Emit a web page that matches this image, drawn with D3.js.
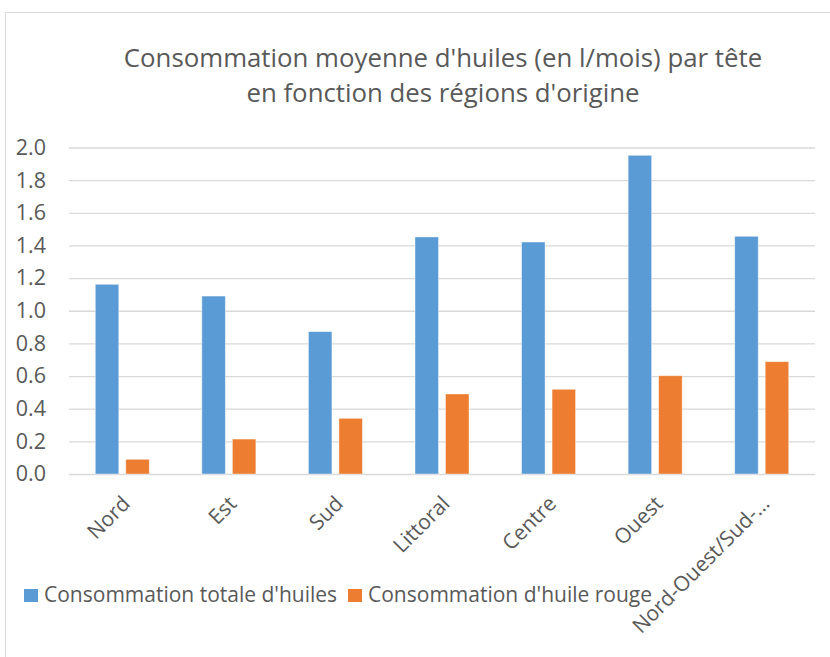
<!DOCTYPE html>
<html>
<head>
<meta charset="utf-8">
<script src="https://cdn.jsdelivr.net/npm/d3@7"></script>
<style>
  body { margin: 0; background: #fff; }
  svg text { font-family: "Open Sans", sans-serif; fill: #595959; }
</style>
</head>
<body>
<div class="wrapper"></div>
<script>
var regions = ["Nord", "Est", "Sud", "Littoral", "Centre", "Ouest", "Nord-Ouest/Sud-\u2026"];
var totalHuiles = [1.162, 1.090, 0.872, 1.452, 1.421, 1.952, 1.456];
var huileRouge = [0.090, 0.214, 0.341, 0.490, 0.519, 0.602, 0.688];
var seriesNames = ["Consommation totale d'huiles", "Consommation d'huile rouge"];
var yTicks = [0, 0.2, 0.4, 0.6, 0.8, 1.0, 1.2, 1.4, 1.6, 1.8, 2.0];
var titleLines = ["Consommation moyenne d'huiles (en l/mois) par t\u00eate", "en fonction des r\u00e9gions d'origine"];

var width = 830, height = 657;
var margin = {top: 147.5, right: 15, bottom: 183, left: 69};
var w = width - margin.left - margin.right,
  h = height - margin.top - margin.bottom;

var svg = d3.select(".wrapper").append("svg")
  .attr("width", width)
  .attr("height", height);

// chart frame
svg.append("rect")
  .attr("x", 5.5).attr("y", 12.5)
  .attr("width", 840).attr("height", 700)
  .attr("fill", "none")
  .attr("stroke", "#d9d9d9");

svg.append("g")
  .selectAll("text")
  .data(titleLines)
  .enter().append("text")
    .attr("x", 443)
    .attr("y", function(d, i) { return 67 + i * 35; })
    .attr("text-anchor", "middle")
    .attr("font-size", 25.8)
    .text(function(d) { return d; });

var g = svg.append("g").attr("transform", "translate(" + margin.left + "," + margin.top + ")");

var x0 = d3.scaleBand().domain(regions).range([0, w]).padding(0);
var keys = [0, 1];
var x1 = d3.scaleBand().domain(keys)
  .range([x0.bandwidth() / 2 - 27, x0.bandwidth() / 2 + 27])
  .paddingInner(0.23);
var y = d3.scaleLinear().domain([0, 2]).range([h, 0]);
var z = d3.scaleOrdinal().domain(keys).range(["#5b9bd5", "#ed7d31"]);

var yAxis = g.append("g")
  .call(d3.axisLeft(y).tickValues(yTicks).tickFormat(d3.format(".1f")).tickSize(-w).tickPadding(23));
yAxis.select(".domain").remove();
yAxis.selectAll("line").attr("stroke", "#d9d9d9").attr("stroke-width", 1.3);
yAxis.selectAll("text").attr("font-size", 21.5).attr("fill", "#595959");

var data = regions.map(function(r, i) {
  return {region: r, values: [totalHuiles[i], huileRouge[i]]};
});

g.append("g")
  .selectAll("g")
  .data(data)
  .enter().append("g")
    .attr("transform", function(d) { return "translate(" + x0(d.region) + ",0)"; })
  .selectAll("rect")
  .data(function(d) { return keys.map(function(k) { return {key: k, value: d.values[k]}; }); })
  .enter().append("rect")
    .attr("x", function(d) { return x1(d.key); })
    .attr("y", function(d) { return y(d.value); })
    .attr("width", x1.bandwidth())
    .attr("height", function(d) { return h - y(d.value); })
    .attr("fill", function(d) { return z(d.key); })
    .attr("stroke", "#fff")
    .attr("stroke-opacity", 0.5)
    .attr("stroke-width", 0.8);

var xAxis = g.append("g")
  .attr("transform", "translate(0," + h + ")")
  .call(d3.axisBottom(x0).tickSize(0).tickPadding(0));
xAxis.select(".domain").remove();
xAxis.selectAll("text")
  .attr("font-size", 21)
  .attr("fill", "#595959")
  .attr("text-anchor", "end")
  .attr("dy", 0)
  .attr("y", 0)
  .attr("transform", "translate(9,31) rotate(-45)");

var legend = svg.append("g")
  .selectAll("g")
  .data(keys)
  .enter().append("g")
    .attr("transform", function(d) { return "translate(" + [24, 348][d] + ",589)"; });

legend.append("rect")
  .attr("width", 14)
  .attr("height", 13)
  .attr("fill", function(d) { return z(d); });

legend.append("text")
  .attr("x", 20)
  .attr("y", 13)
  .attr("font-size", 21)
  .text(function(d) { return seriesNames[d]; });
</script>
</body>
</html>
